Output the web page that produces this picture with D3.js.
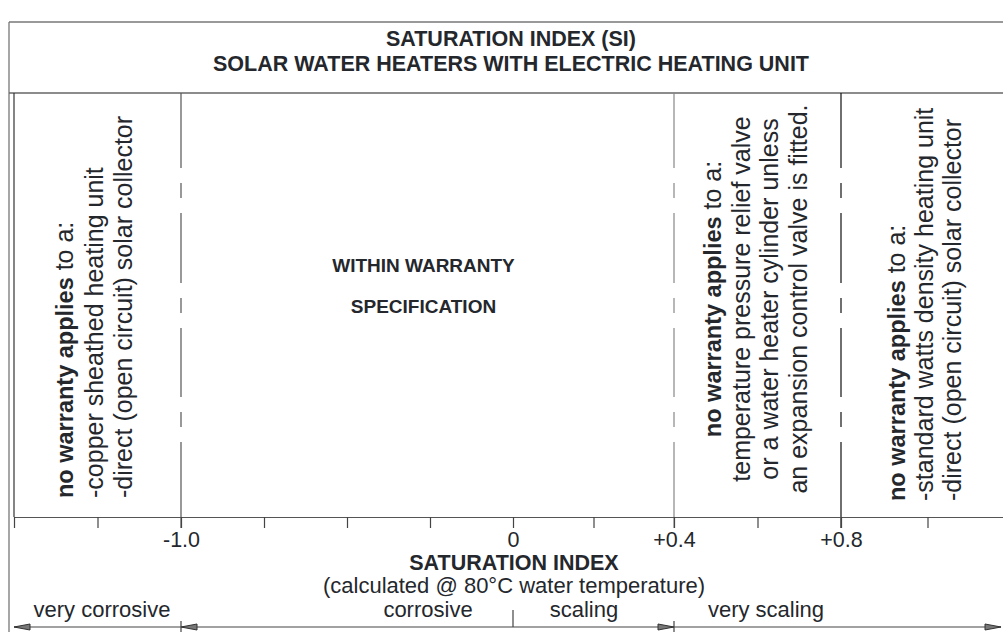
<!DOCTYPE html>
<html>
<head>
<meta charset="utf-8">
<script src="https://cdn.jsdelivr.net/npm/d3@7"></script>
<style>
  body { margin: 0; background: #fff; }
  text { font-family: "Liberation Sans", Arial, sans-serif; fill: #24272c; }
</style>
</head>
<body>
<svg id="chart" width="1003" height="632"></svg>
<script>
    // axis of the saturation index
    const siTicks = [-1.5, -1.25, -1.0, -0.75, -0.5, -0.25, 0, 0.2, 0.4, 0.6, 0.8, 1.0];
    const siLabelValues = [-1.0, 0, 0.4, 0.8];
    const siLabels = ["-1.0", "0", "+0.4", "+0.8"];
    const siLimits = [-1.0, 0.4, 0.8];

    // water zones under the axis
    const zoneNames = ["very corrosive", "corrosive", "scaling", "very scaling"];
    const zoneStarts = [-1.5, -1.0, 0, 0.4];
    const zoneEnds = [-1.0, 0, 0.4, 1.17];
    const zoneArrows = ["left", "left", "right", "right"];

    // notes in the panels: [bold part, normal part]
    const notesCopper = [["no warranty applies", " to a:"], ["", "-copper sheathed heating unit"], ["", "-direct (open circuit) solar collector"]];
    const notesValve = [["no warranty applies", " to a:"], ["", "temperature pressure relief valve"], ["", "or a water heater cylinder unless"], ["", "an expansion control valve is fitted."]];
    const notesWatts = [["no warranty applies", " to a:"], ["", "-standard watts density heating unit"], ["", "-direct (open circuit) solar collector"]];
    const titleLines = ["SATURATION INDEX (SI)", "SOLAR WATER HEATERS WITH ELECTRIC HEATING UNIT"];
    const withinLines = ["WITHIN WARRANTY", "SPECIFICATION"];

    let svg = d3.select('#chart'),
        axisY = 517,
        panelTop = 93;

    // the drawing is not to scale, so the scale is piecewise
    let x = d3.scaleLinear()
        .domain([-1.5, -1.0, 0, 0.4, 0.8, 1.2])
        .range([14, 181, 513, 674, 841, 1014]);

    //frame
    svg.append('line').attr('x1', 9).attr('x2', 1003).attr('y1', 22).attr('y2', 22)
        .attr('stroke', '#777').attr('stroke-width', 1.3);
    svg.append('line').attr('x1', 9).attr('x2', 9).attr('y1', 22).attr('y2', 632)
        .attr('stroke', '#777').attr('stroke-width', 1.3);
    svg.append('line').attr('x1', 9).attr('x2', 1003).attr('y1', panelTop).attr('y2', panelTop)
        .attr('stroke', '#666').attr('stroke-width', 1.3);
    svg.append('line').attr('x1', x(-1.5)).attr('x2', x(-1.5)).attr('y1', panelTop).attr('y2', axisY)
        .attr('stroke', '#333').attr('stroke-width', 1.2);

    //title
    svg.append('g').selectAll('text').data(titleLines).join('text')
        .attr('x', 511).attr('y', (d, i) => 46 + i * 25)
        .attr('text-anchor', 'middle')
        .style('font-size', '21.5px').style('font-weight', 'bold')
        .text(d => d);

    //limit lines (dash dot)
    let lineColors = ['#555', '#888', '#111'];
    svg.append('g').selectAll('line').data(siLimits).join('line')
        .attr('x1', d => x(d)).attr('x2', d => x(d))
        .attr('y1', panelTop).attr('y2', axisY + 11)
        .attr('stroke', (d, i) => lineColors[i]).attr('stroke-width', 1.2)
        .attr('stroke-dasharray', '75 15 15 15 70 15 15 15 69 15 15 15 200');

    //axis
    let axis = d3.axisBottom(x)
        .tickValues(siTicks)
        .tickSize(11)
        .tickSizeOuter(0)
        .tickPadding(4)
        .tickFormat(d => {
            let k = siLabelValues.indexOf(d);
            return k < 0 ? '' : siLabels[k];
        });
    let gAxis = svg.append('g').attr('transform', `translate(0,${axisY})`).call(axis);
    gAxis.select('.domain').attr('stroke', '#555').attr('stroke-width', 1.2);
    gAxis.selectAll('.tick line').attr('stroke', '#444').attr('stroke-width', 1.2);
    gAxis.selectAll('.tick text')
        .style('font-family', '"Liberation Sans", Arial, sans-serif')
        .style('font-size', '21.5px').attr('fill', '#24272c');

    svg.append('text').attr('x', 514).attr('y', 570).attr('text-anchor', 'middle')
        .style('font-size', '21.5px').style('font-weight', 'bold')
        .text('SATURATION INDEX');
    svg.append('text').attr('x', 514).attr('y', 593).attr('text-anchor', 'middle')
        .style('font-size', '22px')
        .text('(calculated @ 80°C water temperature)');

    //within warranty
    svg.append('g').selectAll('text').data(withinLines).join('text')
        .attr('x', 423.5).attr('y', (d, i) => 272 + i * 41)
        .attr('text-anchor', 'middle')
        .style('font-size', '19px').style('font-weight', 'bold')
        .text(d => d);

    //rotated notes
    function notes(lines, tx, ty, lh, anchor) {
        let g = svg.append('g').attr('transform', `translate(${tx},${ty}) rotate(-90)`);
        let t = g.selectAll('text').data(lines).join('text')
            .attr('x', 0).attr('y', (d, i) => i * lh)
            .attr('text-anchor', anchor)
            .style('font-size', '25px');
        t.append('tspan').style('font-weight', 'bold').style('font-size', '23.5px').text(d => d[0]);
        t.append('tspan').text(d => d[1]);
    }
    notes(notesCopper, 73, 498, 29.5, 'start');
    notes(notesValve, 721, 299, 28.5, 'middle');
    notes(notesWatts, 905, 501, 28, 'start');

    //zones with arrows
    let zoneY = 627,
        labelX = [102, 428, 584, 766];
    let zones = svg.append('g').selectAll('g').data(zoneNames).join('g');
    zones.append('line')
        .attr('x1', (d, i) => x(zoneStarts[i])).attr('x2', (d, i) => x(zoneEnds[i]))
        .attr('y1', zoneY).attr('y2', zoneY)
        .attr('stroke', '#444').attr('stroke-width', 1.2);
    zones.append('path')
        .attr('d', (d, i) => {
            let tip = zoneArrows[i] === 'left' ? x(zoneStarts[i]) : x(zoneEnds[i]),
                s = zoneArrows[i] === 'left' ? 1 : -1;
            return `M${tip},${zoneY} L${tip + s * 16},${zoneY - 3} L${tip + s * 16},${zoneY + 3} Z`;
        })
        .attr('fill', '#777').attr('stroke', '#333').attr('stroke-width', 1);
    zones.append('text')
        .attr('x', (d, i) => labelX[i]).attr('y', 617)
        .attr('text-anchor', 'middle')
        .style('font-size', '22px')
        .text(d => d);

    // small marks on the zone line
    svg.append('g').selectAll('line').data(siLimits.slice(0, 2)).join('line')
        .attr('x1', d => x(d)).attr('x2', d => x(d))
        .attr('y1', 621).attr('y2', 632)
        .attr('stroke', '#444').attr('stroke-width', 1.2);
    svg.append('line').attr('x1', x(0)).attr('x2', x(0)).attr('y1', 610).attr('y2', zoneY)
        .attr('stroke', '#444').attr('stroke-width', 1.2);
</script>
</body>
</html>
